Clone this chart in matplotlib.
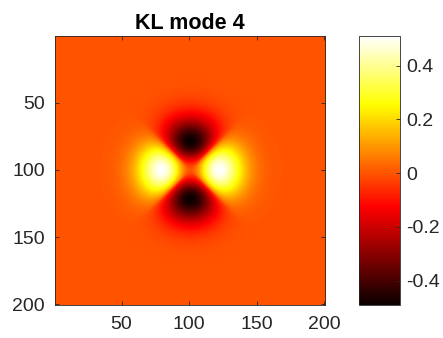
import numpy as np
import matplotlib
matplotlib.use("Agg")
import matplotlib.pyplot as plt

# ---- data ----
n_grid = 200
center_xy = (100.5, 100.5)
lobe_radius = 21.5          # distance of lobe peaks from centre
tail_power = 1.85           # radial fall-off shape of the lobes
angular_power = 0.7         # angular width of the lobes
peak_positive = 0.51        # left/right lobes
peak_negative = 0.49        # top/bottom lobes (magnitude)
color_levels = 256
title_text = "KL mode 4"
x_ticks = [50, 100, 150, 200]
y_ticks = [50, 100, 150, 200]
cbar_ticks = [-0.4, -0.2, 0, 0.2, 0.4]
cbar_labels = ["-0.4", "-0.2", "0", "0.2", "0.4"]

# ---- field ----
idx = np.arange(1, n_grid + 1)
X, Y = np.meshgrid(idx, idx)
dx = X - center_xy[0]
dy = Y - center_xy[1]
rho = np.hypot(dx, dy) / lobe_radius
radial = rho ** 2 * np.exp((2.0 / tail_power) * (1 - rho ** tail_power))
theta = np.arctan2(dy, dx)
c2 = np.cos(2 * theta)
ang = np.sign(c2) * np.abs(c2) ** angular_power
field = radial * np.where(ang > 0, peak_positive * ang, peak_negative * ang)

plt.rcParams['font.family'] = ['Liberation Sans', 'DejaVu Sans']
fig = plt.figure(figsize=(4.43, 3.38), dpi=100)
ax = fig.add_axes([0.1235, 0.0976, 0.6095, 0.796])
im = ax.imshow(field, cmap=plt.get_cmap('hot', color_levels), origin='upper',
               extent=[0.5, n_grid + 0.5, n_grid + 0.5, 0.5],
               vmin=-peak_negative, vmax=peak_positive, aspect='auto',
               interpolation='bilinear')
ax.set_xticks(x_ticks)
ax.set_yticks(y_ticks)
ax.tick_params(direction='in', length=3, width=0.6, top=True, right=True,
               labelsize=14, colors='#262626', pad=7)
ax.tick_params(axis='x', pad=8)
for sp in ax.spines.values():
    sp.set_color('#262626')
    sp.set_linewidth(0.6)
ax.set_title(title_text, fontsize=15.5, fontweight='bold', pad=5)

cax = fig.add_axes([0.8105, 0.0976, 0.0935, 0.796])
cb = fig.colorbar(im, cax=cax)
cb.set_ticks(cbar_ticks)
cb.set_ticklabels(cbar_labels)
cax.tick_params(direction='in', length=3, width=0.6, labelsize=14,
                colors='#262626', pad=4)
cb.outline.set_edgecolor('#262626')
cb.outline.set_linewidth(0.6)

fig.savefig('out.png', dpi=100)
